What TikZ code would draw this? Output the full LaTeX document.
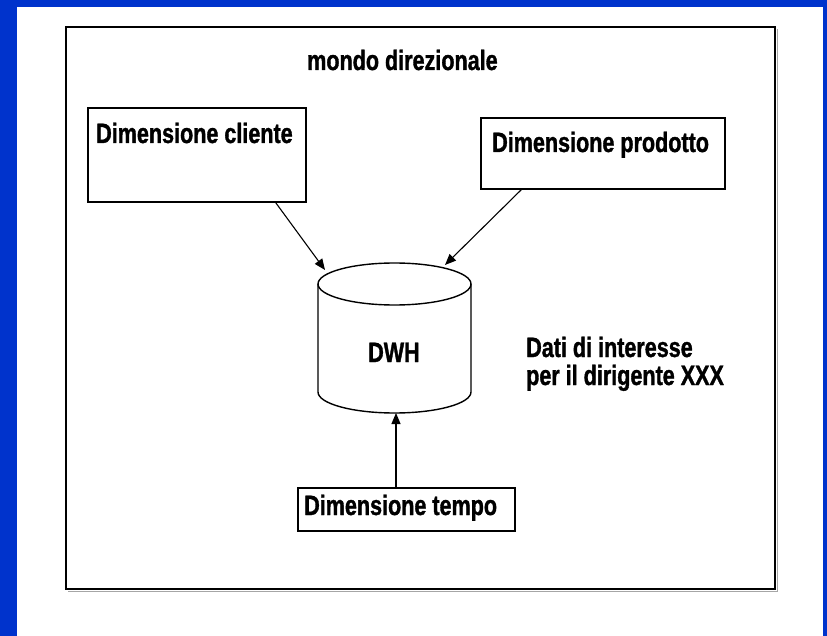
\documentclass[tikz,border=0pt]{standalone}
\usepackage{fontspec}
\newfontfamily\pix[FakeStretch=0.77,FakeBold=1.2]{Liberation Sans}
\usetikzlibrary{arrows.meta}
\definecolor{bgblue}{RGB}{0,51,204}
\tikzset{
  box/.style={draw=black, line width=1.6pt, fill=white, inner sep=0pt, minimum width=#1},
  lbl/.style={anchor=base west, inner sep=0pt, font=\pix\bfseries\fontsize{28}{31}\selectfont},
  arr/.style={line width=1.1pt, -{Triangle[length=11pt,width=9pt]}},
  cyl/.style={line width=1.4pt}
}
\begin{document}
\begin{tikzpicture}[x=1pt,y=-1pt]
\useasboundingbox (0,0) rectangle (827,636);
\fill[bgblue] (0,0) rectangle (827,636);
\fill[white] (17,7) rectangle (823,636);
% outer frame with slight shadow
\draw[black!35, line width=1.4pt] (777.5,29) -- (777.5,591.5) -- (68,591.5);
\node[draw=black, line width=2pt, inner sep=0pt, minimum width=709pt, minimum height=562pt] (world) at (420.5,308) {};
\node[lbl] (mondo) at (307,70) {mondo direzionale};
% boxes
\node[box=218pt, minimum height=94pt] (cliente) at (197,155) {};
\node[box=244pt, minimum height=71pt] (prodotto) at (603,153.5) {};
\node[box=217pt, minimum height=43pt] (tempo) at (406.5,509.5) {};
\node[lbl] (tcliente) at (96,143) {Dimensione cliente};
\node[lbl] (tprodotto) at (492,152) {Dimensione prodotto};
\node[lbl] (ttempo) at (304,515) {Dimensione tempo};
% cylinder
\draw[cyl, fill=white] (318,284) -- (318,392) arc[start angle=180, end angle=0, x radius=76.5, y radius=21] -- (471,284);
\draw[cyl, fill=white] (394.5,284) ellipse[x radius=76.5, y radius=21];
\node[lbl] (dwh) at (368,362) {DWH};
\coordinate (c1) at (325,270);
\coordinate (c2) at (445,265);
\coordinate (c3) at (396,413);
% info text
\node[lbl] (dati) at (526,357) {Dati di interesse};
\node[lbl] (dirig) at (526,385) {per il dirigente XXX};
% arrows
\draw[arr] ([xshift=-31pt]cliente.south east) -- (c1);
\draw[arr] ([xshift=41pt]prodotto.south west) -- (c2);
\draw[arr] ([xshift=-10.5pt]tempo.north) -- (c3);
\end{tikzpicture}
\end{document}
